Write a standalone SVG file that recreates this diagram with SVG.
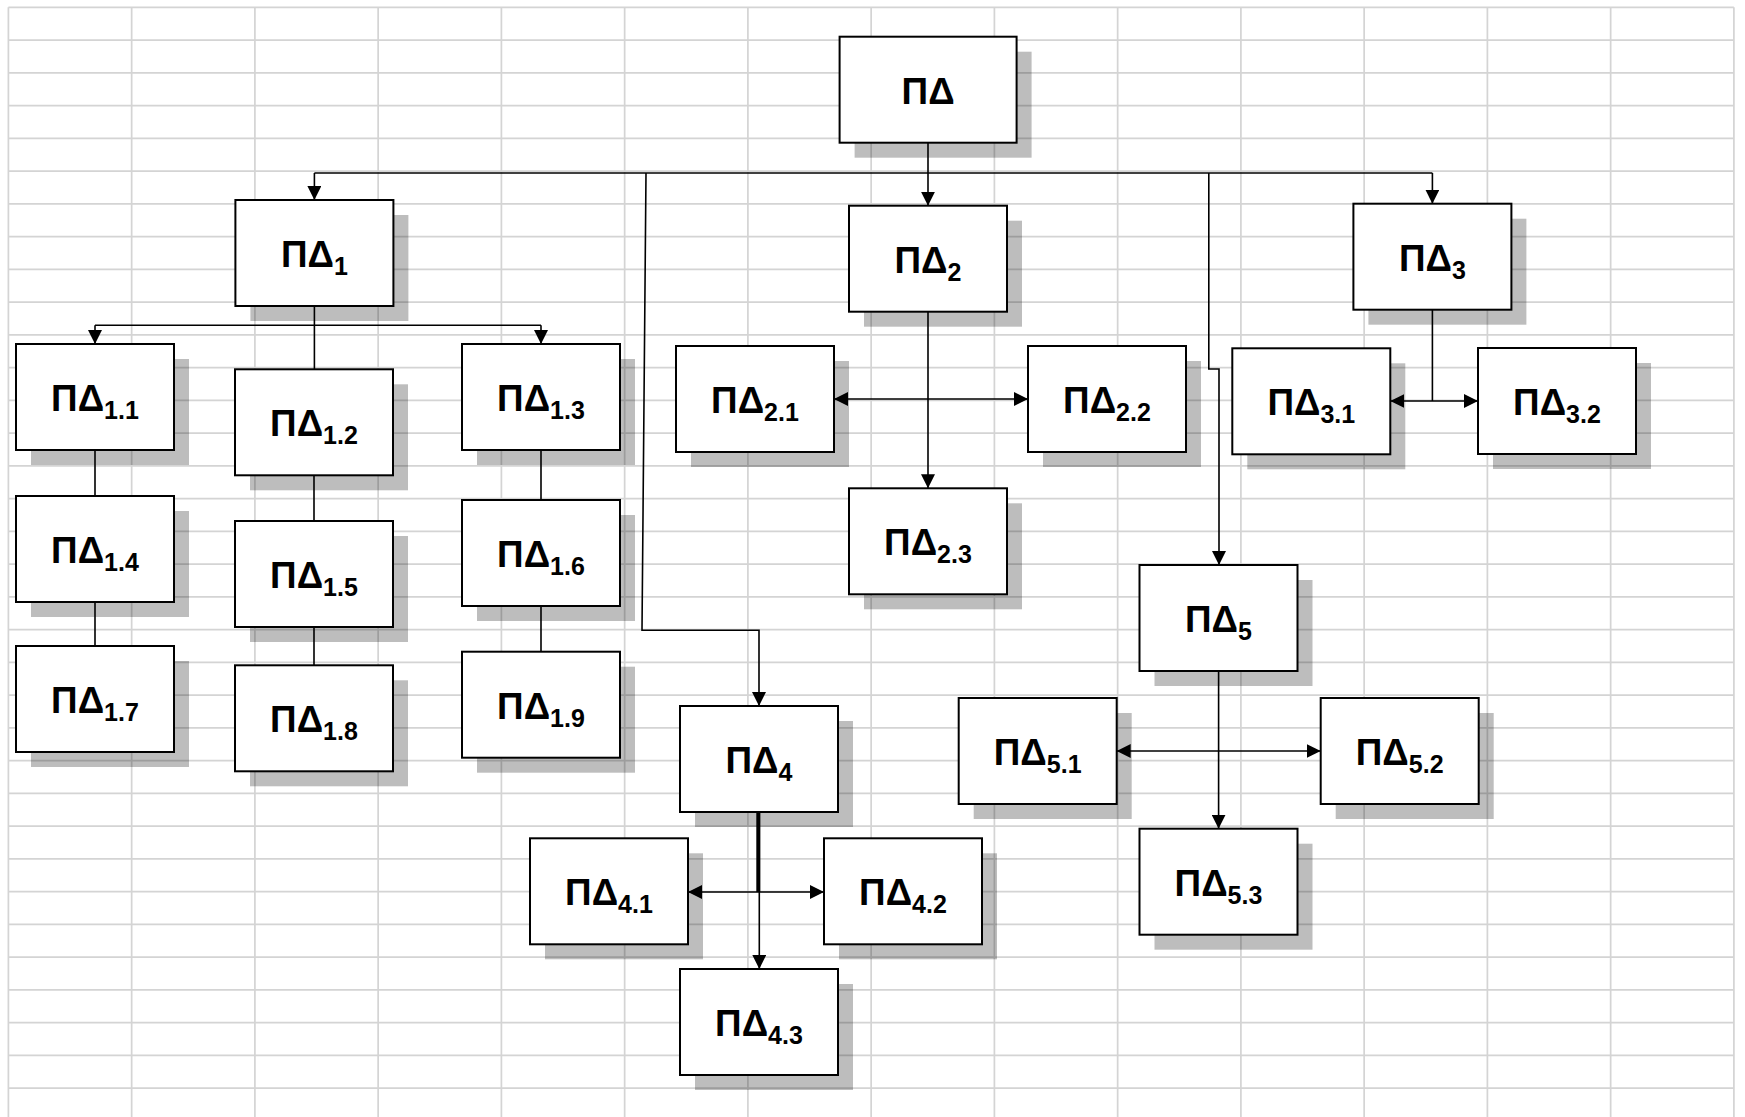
<svg xmlns="http://www.w3.org/2000/svg" width="1745" height="1117" viewBox="0 0 1745 1117">
<defs>
<style>
.grid{fill:none;stroke:#d4d4d4;stroke-width:1.7}
.sh{fill:#000;fill-opacity:0.26}
.box{fill:#fff;stroke:#000;stroke-width:2}
.big{font-family:"Liberation Sans",Arial,sans-serif;font-weight:bold;font-size:37px;fill:#000}
.sub{font-family:"Liberation Sans",Arial,sans-serif;font-weight:bold;font-size:25px;fill:#000}
.c{fill:none;stroke:#000;stroke-width:1.6}
.a{marker-end:url(#arr)}
.d{marker-start:url(#arr);marker-end:url(#arr)}
</style>
<marker id="arr" markerUnits="userSpaceOnUse" markerWidth="15" markerHeight="14" refX="14" refY="7" orient="auto-start-reverse" viewBox="0 0 15 14">
<path d="M0,0 L14,7 L0,14 z" fill="#000"/>
</marker>
</defs>
<rect width="1745" height="1117" fill="#fff"/>
<g id="grid">
<path class="grid" d="M8.4,7.3V1117M131.65,7.3V1117M254.9,7.3V1117M378.15,7.3V1117M501.4,7.3V1117M624.65,7.3V1117M747.9,7.3V1117M871.15,7.3V1117M994.4,7.3V1117M1117.65,7.3V1117M1240.9,7.3V1117M1364.15,7.3V1117M1487.4,7.3V1117M1610.65,7.3V1117M1733.9,7.3V1117"/>
<path class="grid" d="M8.4,7.3H1733.9M8.4,40.05H1733.9M8.4,72.8H1733.9M8.4,105.55H1733.9M8.4,138.3H1733.9M8.4,171.05H1733.9M8.4,203.8H1733.9M8.4,236.55H1733.9M8.4,269.3H1733.9M8.4,302.05H1733.9M8.4,334.8H1733.9M8.4,367.55H1733.9M8.4,400.3H1733.9M8.4,433.05H1733.9M8.4,465.8H1733.9M8.4,498.55H1733.9M8.4,531.3H1733.9M8.4,564.05H1733.9M8.4,596.8H1733.9M8.4,629.55H1733.9M8.4,662.3H1733.9M8.4,695.05H1733.9M8.4,727.8H1733.9M8.4,760.55H1733.9M8.4,793.3H1733.9M8.4,826.05H1733.9M8.4,858.8H1733.9M8.4,891.55H1733.9M8.4,924.3H1733.9M8.4,957.05H1733.9M8.4,989.8H1733.9M8.4,1022.55H1733.9M8.4,1055.3H1733.9M8.4,1088.05H1733.9"/>
</g>
<g id="nodes">
<g id="pd"><rect class="sh" x="854.6" y="51.7" width="177" height="106"/><rect class="box" x="839.6" y="36.7" width="177" height="106"/><text class="big" x="901.6" y="103.7" textLength="53" lengthAdjust="spacingAndGlyphs">ΠΔ</text></g>
<g id="pd1"><rect class="sh" x="250.4" y="215" width="158" height="106"/><rect class="box" x="235.4" y="200" width="158" height="106"/><text class="big" x="280.9" y="267" textLength="53" lengthAdjust="spacingAndGlyphs">ΠΔ</text><text class="sub" x="333.9" y="275">1</text></g>
<g id="pd2"><rect class="sh" x="864" y="220.7" width="158" height="106"/><rect class="box" x="849" y="205.7" width="158" height="106"/><text class="big" x="894.5" y="272.7" textLength="53" lengthAdjust="spacingAndGlyphs">ΠΔ</text><text class="sub" x="947.5" y="280.7">2</text></g>
<g id="pd3"><rect class="sh" x="1368.4" y="218.7" width="158" height="106"/><rect class="box" x="1353.4" y="203.7" width="158" height="106"/><text class="big" x="1398.9" y="270.7" textLength="53" lengthAdjust="spacingAndGlyphs">ΠΔ</text><text class="sub" x="1451.9" y="278.7">3</text></g>
<g id="pd1_1"><rect class="sh" x="31" y="359" width="158" height="106"/><rect class="box" x="16" y="344" width="158" height="106"/><text class="big" x="51.1" y="411" textLength="53" lengthAdjust="spacingAndGlyphs">ΠΔ</text><text class="sub" x="104.1" y="419">1.1</text></g>
<g id="pd1_2"><rect class="sh" x="250" y="384.3" width="158" height="106"/><rect class="box" x="235" y="369.3" width="158" height="106"/><text class="big" x="270.1" y="436.3" textLength="53" lengthAdjust="spacingAndGlyphs">ΠΔ</text><text class="sub" x="323.1" y="444.3">1.2</text></g>
<g id="pd1_3"><rect class="sh" x="477" y="359" width="158" height="106"/><rect class="box" x="462" y="344" width="158" height="106"/><text class="big" x="497.1" y="411" textLength="53" lengthAdjust="spacingAndGlyphs">ΠΔ</text><text class="sub" x="550.1" y="419">1.3</text></g>
<g id="pd1_4"><rect class="sh" x="31" y="511" width="158" height="106"/><rect class="box" x="16" y="496" width="158" height="106"/><text class="big" x="51.1" y="563" textLength="53" lengthAdjust="spacingAndGlyphs">ΠΔ</text><text class="sub" x="104.1" y="571">1.4</text></g>
<g id="pd1_5"><rect class="sh" x="250" y="536" width="158" height="106"/><rect class="box" x="235" y="521" width="158" height="106"/><text class="big" x="270.1" y="588" textLength="53" lengthAdjust="spacingAndGlyphs">ΠΔ</text><text class="sub" x="323.1" y="596">1.5</text></g>
<g id="pd1_6"><rect class="sh" x="477" y="515" width="158" height="106"/><rect class="box" x="462" y="500" width="158" height="106"/><text class="big" x="497.1" y="567" textLength="53" lengthAdjust="spacingAndGlyphs">ΠΔ</text><text class="sub" x="550.1" y="575">1.6</text></g>
<g id="pd1_7"><rect class="sh" x="31" y="661" width="158" height="106"/><rect class="box" x="16" y="646" width="158" height="106"/><text class="big" x="51.1" y="713" textLength="53" lengthAdjust="spacingAndGlyphs">ΠΔ</text><text class="sub" x="104.1" y="721">1.7</text></g>
<g id="pd1_8"><rect class="sh" x="250" y="680.3" width="158" height="106"/><rect class="box" x="235" y="665.3" width="158" height="106"/><text class="big" x="270.1" y="732.3" textLength="53" lengthAdjust="spacingAndGlyphs">ΠΔ</text><text class="sub" x="323.1" y="740.3">1.8</text></g>
<g id="pd1_9"><rect class="sh" x="477" y="666.7" width="158" height="106"/><rect class="box" x="462" y="651.7" width="158" height="106"/><text class="big" x="497.1" y="718.7" textLength="53" lengthAdjust="spacingAndGlyphs">ΠΔ</text><text class="sub" x="550.1" y="726.7">1.9</text></g>
<g id="pd2_1"><rect class="sh" x="691" y="361" width="158" height="106"/><rect class="box" x="676" y="346" width="158" height="106"/><text class="big" x="711.1" y="413" textLength="53" lengthAdjust="spacingAndGlyphs">ΠΔ</text><text class="sub" x="764.1" y="421">2.1</text></g>
<g id="pd2_2"><rect class="sh" x="1043" y="361" width="158" height="106"/><rect class="box" x="1028" y="346" width="158" height="106"/><text class="big" x="1063.1" y="413" textLength="53" lengthAdjust="spacingAndGlyphs">ΠΔ</text><text class="sub" x="1116.1" y="421">2.2</text></g>
<g id="pd2_3"><rect class="sh" x="864" y="503.3" width="158" height="106"/><rect class="box" x="849" y="488.3" width="158" height="106"/><text class="big" x="884.1" y="555.3" textLength="53" lengthAdjust="spacingAndGlyphs">ΠΔ</text><text class="sub" x="937.1" y="563.3">2.3</text></g>
<g id="pd3_1"><rect class="sh" x="1247.3" y="363.3" width="158" height="106"/><rect class="box" x="1232.3" y="348.3" width="158" height="106"/><text class="big" x="1267.4" y="415.3" textLength="53" lengthAdjust="spacingAndGlyphs">ΠΔ</text><text class="sub" x="1320.4" y="423.3">3.1</text></g>
<g id="pd3_2"><rect class="sh" x="1493" y="363" width="158" height="106"/><rect class="box" x="1478" y="348" width="158" height="106"/><text class="big" x="1513.1" y="415" textLength="53" lengthAdjust="spacingAndGlyphs">ΠΔ</text><text class="sub" x="1566.1" y="423">3.2</text></g>
<g id="pd4"><rect class="sh" x="695" y="721" width="158" height="106"/><rect class="box" x="680" y="706" width="158" height="106"/><text class="big" x="725.5" y="773" textLength="53" lengthAdjust="spacingAndGlyphs">ΠΔ</text><text class="sub" x="778.5" y="781">4</text></g>
<g id="pd4_1"><rect class="sh" x="545" y="853.3" width="158" height="106"/><rect class="box" x="530" y="838.3" width="158" height="106"/><text class="big" x="565.1" y="905.3" textLength="53" lengthAdjust="spacingAndGlyphs">ΠΔ</text><text class="sub" x="618.1" y="913.3">4.1</text></g>
<g id="pd4_2"><rect class="sh" x="839" y="853.3" width="158" height="106"/><rect class="box" x="824" y="838.3" width="158" height="106"/><text class="big" x="859.1" y="905.3" textLength="53" lengthAdjust="spacingAndGlyphs">ΠΔ</text><text class="sub" x="912.1" y="913.3">4.2</text></g>
<g id="pd4_3"><rect class="sh" x="695" y="984" width="158" height="106"/><rect class="box" x="680" y="969" width="158" height="106"/><text class="big" x="715.1" y="1036" textLength="53" lengthAdjust="spacingAndGlyphs">ΠΔ</text><text class="sub" x="768.1" y="1044">4.3</text></g>
<g id="pd5"><rect class="sh" x="1154.5" y="580" width="158" height="106"/><rect class="box" x="1139.5" y="565" width="158" height="106"/><text class="big" x="1185" y="632" textLength="53" lengthAdjust="spacingAndGlyphs">ΠΔ</text><text class="sub" x="1238" y="640">5</text></g>
<g id="pd5_1"><rect class="sh" x="973.7" y="713" width="158" height="106"/><rect class="box" x="958.7" y="698" width="158" height="106"/><text class="big" x="993.8" y="765" textLength="53" lengthAdjust="spacingAndGlyphs">ΠΔ</text><text class="sub" x="1046.8" y="773">5.1</text></g>
<g id="pd5_2"><rect class="sh" x="1335.7" y="713" width="158" height="106"/><rect class="box" x="1320.7" y="698" width="158" height="106"/><text class="big" x="1355.8" y="765" textLength="53" lengthAdjust="spacingAndGlyphs">ΠΔ</text><text class="sub" x="1408.8" y="773">5.2</text></g>
<g id="pd5_3"><rect class="sh" x="1154.5" y="843.7" width="158" height="106"/><rect class="box" x="1139.5" y="828.7" width="158" height="106"/><text class="big" x="1174.6" y="895.7" textLength="53" lengthAdjust="spacingAndGlyphs">ΠΔ</text><text class="sub" x="1227.6" y="903.7">5.3</text></g>
</g>
<g id="connectors">
<path class="c a" d="M928,142.7V205.7"/>
<path class="c" d="M314.4,173H1432.4"/>
<path class="c a" d="M314.4,173V200"/>
<path class="c a" d="M1432.4,173V203.7"/>
<path class="c a" d="M646,173L642,630.3H759V706"/>
<path class="c a" d="M1208.8,173V369H1219V565"/>
<path class="c" d="M314.4,306V369.3"/>
<path class="c" d="M95,325.3H541"/>
<path class="c a" d="M95,325.3V344"/>
<path class="c a" d="M541,325.3V344"/>
<path class="c" d="M95,450V496M95,602V646"/>
<path class="c" d="M314,475.3V521M314,627V665.3"/>
<path class="c" d="M541,450V500M541,606V651.7"/>
<path class="c a" d="M928,311.7V488.3"/>
<path class="c d" d="M834,399H1028"/>
<path class="c" d="M1432.4,309.7V401"/>
<path class="c d" d="M1390.3,401H1478"/>
<path class="c" style="stroke-width:4" d="M758.3,811.7V892"/>
<path class="c a" d="M759.3,811.7V969"/>
<path class="c d" d="M688,892H824"/>
<path class="c a" d="M1218.6,671V828.7"/>
<path class="c d" d="M1116.7,751H1320.7"/>
</g>
</svg>
